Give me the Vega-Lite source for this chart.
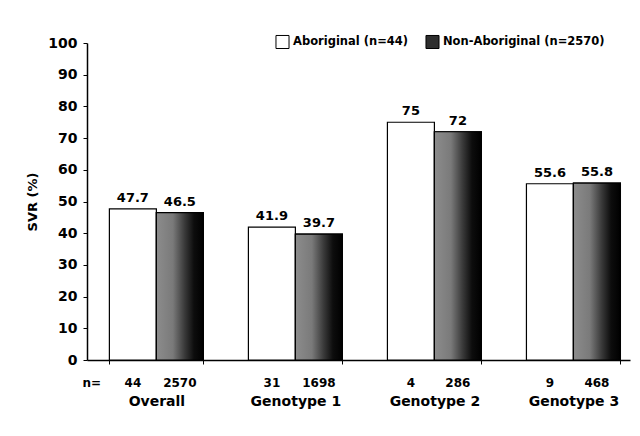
{
  "$schema": "https://vega.github.io/schema/vega-lite/v6.json",
  "autosize": "none",
  "width": 543,
  "height": 317,
  "padding": {"left": 87, "top": 43, "right": 10, "bottom": 76},
  "background": "white",
  "config": {
    "view": {"stroke": null},
    "font": "DejaVu Sans",
    "axis": {"domainColor": "black", "tickColor": "black", "labelColor": "black", "titleColor": "black", "grid": false, "labelFontWeight": "bold", "titleFontWeight": "bold"},
    "legend": {"labelFontWeight": "bold", "labelColor": "black"}
  },
  "data": {
    "values": [
      {"group": "Overall", "pop": "Aboriginal (n=44)", "value": 47.7, "n": "44"},
      {"group": "Overall", "pop": "Non-Aboriginal (n=2570)", "value": 46.5, "n": "2570"},
      {"group": "Genotype 1", "pop": "Aboriginal (n=44)", "value": 41.9, "n": "31"},
      {"group": "Genotype 1", "pop": "Non-Aboriginal (n=2570)", "value": 39.7, "n": "1698"},
      {"group": "Genotype 2", "pop": "Aboriginal (n=44)", "value": 75, "n": "4"},
      {"group": "Genotype 2", "pop": "Non-Aboriginal (n=2570)", "value": 72, "n": "286"},
      {"group": "Genotype 3", "pop": "Aboriginal (n=44)", "value": 55.6, "n": "9"},
      {"group": "Genotype 3", "pop": "Non-Aboriginal (n=2570)", "value": 55.8, "n": "468"}
    ]
  },
  "encoding": {
    "x": {
      "field": "group", "type": "nominal",
      "sort": ["Overall", "Genotype 1", "Genotype 2", "Genotype 3"],
      "scale": {"paddingInner": 0.324, "paddingOuter": 0.115, "align": 0.7},
      "axis": {"title": null, "labelAngle": 0, "labelFontSize": 14, "labelPadding": 30, "tickSize": 4, "tickBand": "extent", "domainWidth": 1.5, "labelLimit": 200}
    },
    "xOffset": {"field": "pop", "sort": ["Aboriginal (n=44)", "Non-Aboriginal (n=2570)"]},
    "y": {
      "field": "value", "type": "quantitative",
      "scale": {"domain": [0, 100], "nice": false},
      "axis": {"title": "SVR (%)", "titleFontSize": 13, "titlePadding": 8, "labelFontSize": 14, "labelPadding": 6, "tickSize": 4, "values": [0,10,20,30,40,50,60,70,80,90,100], "labelOverlap": false, "domainWidth": 1.5}
    }
  },
  "layer": [
    {
      "mark": {"type": "bar", "stroke": "black", "strokeWidth": 1.2},
      "encoding": {
        "fill": {
          "field": "pop", "type": "nominal",
          "sort": ["Aboriginal (n=44)", "Non-Aboriginal (n=2570)"],
          "scale": {"range": ["white", "#2e2e2e"]},
          "legend": {"title": null, "orient": "none", "legendX": 188, "legendY": -9, "direction": "horizontal", "symbolType": "square", "symbolSize": 170, "symbolStrokeColor": "black", "symbolStrokeWidth": 1, "labelFontSize": 11.5, "labelLimit": 300, "columnPadding": 14, "labelOffset": 3}
        }
      }
    },
    {
      "transform": [{"filter": "datum.pop === 'Non-Aboriginal (n=2570)'"}],
      "mark": {
        "type": "bar", "stroke": "black", "strokeWidth": 1.2,
        "fill": {"gradient": "linear", "x1": 0, "x2": 1, "y1": 0, "y2": 0,
          "stops": [
            {"offset": 0, "color": "#8c8c8c"},
            {"offset": 0.35, "color": "#7a7a7a"},
            {"offset": 0.6, "color": "#3a3a3a"},
            {"offset": 0.8, "color": "#0d0d0d"},
            {"offset": 1, "color": "#000000"}
          ]}
      }
    },
    {
      "mark": {"type": "text", "dy": -7, "baseline": "alphabetic", "fontWeight": "bold", "fontSize": 13, "color": "black"},
      "encoding": {"text": {"field": "value", "type": "quantitative"}}
    },
    {
      "mark": {"type": "text", "dy": 23, "baseline": "middle", "fontWeight": "bold", "fontSize": 12, "color": "black"},
      "encoding": {"y": {"datum": 0}, "text": {"field": "n", "type": "nominal"}}
    },
    {
      "data": {"values": [{"group": "Overall", "pop": "Aboriginal (n=44)", "value": 0, "label": "n="}]},
      "mark": {"type": "text", "dy": 23, "dx": -41, "baseline": "middle", "fontWeight": "bold", "fontSize": 12, "color": "black"},
      "encoding": {"text": {"field": "label", "type": "nominal"}}
    }
  ]
}
